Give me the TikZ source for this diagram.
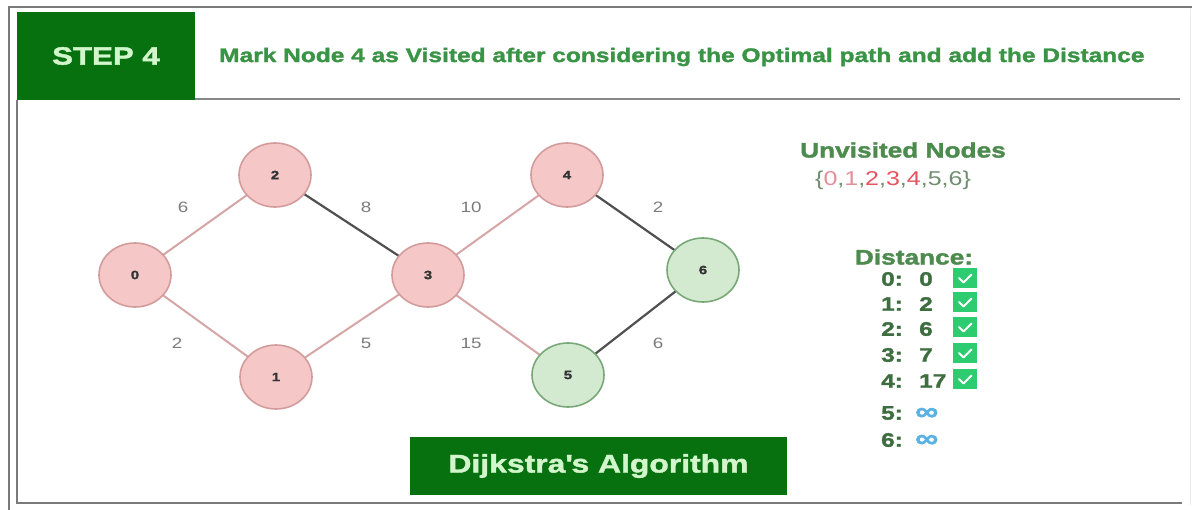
\documentclass[tikz,border=0pt]{standalone}
\usepackage{fontspec}
\setmainfont{Liberation Sans}[FakeStretch=1.25, BoldFeatures={FakeBold=1.6}]
\usetikzlibrary{shapes.geometric}

\definecolor{darkgreen}{HTML}{07700F}
\definecolor{lightgreentext}{HTML}{D2F5CC}
\definecolor{headgreen}{HTML}{3A9446}
\definecolor{titlegreen}{HTML}{4C8A4E}
\definecolor{rowgreen}{HTML}{3E6E40}
\definecolor{framegray}{HTML}{7A7A7A}
\definecolor{pinkfill}{HTML}{F6C7C7}
\definecolor{pinkdraw}{HTML}{D39C9C}
\definecolor{greenfill}{HTML}{D3EAD1}
\definecolor{greendraw}{HTML}{79A878}
\definecolor{pinkedge}{HTML}{D6A6A6}
\definecolor{darkedge}{HTML}{505050}
\definecolor{weightgray}{HTML}{7C7C7C}
\definecolor{visitred}{HTML}{E5535E}
\definecolor{visitpink}{HTML}{E58D98}
\definecolor{setgray}{HTML}{6F8F6F}
\definecolor{checkgreen}{HTML}{2ECC71}
\definecolor{infblue}{HTML}{5AB2E4}

\begin{document}
\begin{tikzpicture}[x=1pt,y=-1pt,
  framestyle/.style={draw=framegray, line width=2.2pt},
  stepbox/.style={fill=darkgreen, text=lightgreentext, font=\bfseries\fontsize{25}{28}\selectfont,
    minimum width=178pt, minimum height=88pt, inner sep=0pt},
  headtext/.style={text=headgreen, font=\bfseries\fontsize{19.6}{22}\selectfont, inner sep=0pt},
  gnode/.style={ellipse, minimum width=72pt, minimum height=64pt, line width=1.6pt,
    font=\bfseries\fontsize{12}{14}\selectfont, text=black!80, inner sep=0pt},
  visited/.style={gnode, fill=pinkfill, draw=pinkdraw},
  unvisited/.style={gnode, fill=greenfill, draw=greendraw},
  lightedge/.style={draw=pinkedge, line width=2pt},
  heavyedge/.style={draw=darkedge, line width=2.2pt},
  weight/.style={text=weightgray, font=\fontsize{15}{17}\selectfont, inner sep=0pt},
  paneltitle/.style={text=titlegreen, font=\bfseries\fontsize{21}{24}\selectfont, inner sep=0pt},
  rowkey/.style={text=rowgreen, font=\bfseries\fontsize{19.5}{22}\selectfont, inner sep=0pt, anchor=west},
  checkbox/.style={fill=checkgreen, minimum width=24pt, minimum height=20pt, inner sep=0pt,
    path picture={\draw[white, line width=1.8pt, line cap=round, line join=round]
      ([xshift=-6pt,yshift=0pt]path picture bounding box.center) -- ++(4.5pt,-4.5pt) -- ++(8pt,8pt);}},
  infsign/.style={text=infblue, font=\bfseries\fontsize{26}{28}\selectfont, inner sep=0pt, anchor=west},
  bannerbox/.style={fill=darkgreen, text=lightgreentext, font=\bfseries\fontsize{25.5}{28}\selectfont,
    minimum width=377pt, minimum height=58pt, inner sep=0pt}
]
\useasboundingbox (0,0) rectangle (1198,510);
\fill[white] (0,0) rectangle (1198,510);

% outer and inner frame lines
\coordinate (otl) at (9,7);
\coordinate (otr) at (1192,7);
\coordinate (obl) at (9,510);
\draw[framestyle] (otr) -- (otl) -- (obl);
\coordinate (itl) at (17,100);
\coordinate (ibl) at (17,503);
\coordinate (ibr) at (1182,503);
\draw[framestyle] (itl) -- (ibl) -- (ibr);
\draw[draw=black!8, line width=1pt] (1190,9) -- (1190,505);

% header
\node[stepbox] (step) at (106,56) {STEP 4};
\coordinate (hl) at (195,99);
\coordinate (hr) at (1180,99);
\draw[draw=framegray!90, line width=2pt] (hl) -- (hr);
\node[headtext, anchor=west] (head) at (219,57)
  {Mark Node 4 as Visited after considering the Optimal path and add the Distance};

% edges between node centres, drawn first so the nodes cover their ends
\coordinate (p0) at (135,275);
\coordinate (p2) at (275,175);
\coordinate (p1) at (276,377);
\coordinate (p3) at (428,275);
\coordinate (p4) at (567,175);
\coordinate (p6) at (703,270);
\coordinate (p5) at (568,375);
\draw[lightedge] (p0) -- (p2);
\draw[lightedge] (p0) -- (p1);
\draw[lightedge] (p1) -- (p3);
\draw[heavyedge] (p2) -- (p3);
\draw[lightedge] (p3) -- (p4);
\draw[lightedge] (p3) -- (p5);
\draw[heavyedge] (p4) -- (p6);
\draw[heavyedge] (p5) -- (p6);

% graph nodes
\node[visited]   (n0) at (p0) {0};
\node[visited]   (n2) at (p2) {2};
\node[visited]   (n1) at (p1) {1};
\node[visited]   (n3) at (p3) {3};
\node[visited]   (n4) at (p4) {4};
\node[unvisited] (n6) at (p6) {6};
\node[unvisited] (n5) at (p5) {5};

% edge weights
\node[weight] (w02) at (183,207) {6};
\node[weight] (w23) at (366,207) {8};
\node[weight] (w34) at (471,207) {10};
\node[weight] (w46) at (658,207) {2};
\node[weight] (w01) at (177,343) {2};
\node[weight] (w13) at (366,343) {5};
\node[weight] (w35) at (471,343) {15};
\node[weight] (w56) at (658,343) {6};

% unvisited set
\node[paneltitle] (unv) at (903,150) {Unvisited Nodes};
\node[inner sep=0pt, font=\fontsize{20}{22}\selectfont, text=setgray] (set) at (893,180)
  {\{\textcolor{visitpink}{0},\textcolor{visitpink}{1},\textcolor{visitred}{2},\textcolor{visitred}{3},\textcolor{visitred}{4},5,6\}};

% distance table
\node[paneltitle] (dist) at (914,257) {Distance:};
\node[rowkey] (k0) at (881,279) {0:};
\node[rowkey] (v0) at (919,279) {0};
\node[checkbox] (c0) at (965,278) {};
\node[rowkey] (k1) at (881,304) {1:};
\node[rowkey] (v1) at (919,304) {2};
\node[checkbox] (c1) at (965,302) {};
\node[rowkey] (k2) at (881,329) {2:};
\node[rowkey] (v2) at (919,329) {6};
\node[checkbox] (c2) at (965,327) {};
\node[rowkey] (k3) at (881,355) {3:};
\node[rowkey] (v3) at (919,355) {7};
\node[checkbox] (c3) at (965,353) {};
\node[rowkey] (k4) at (881,381) {4:};
\node[rowkey] (v4) at (919,381) {17};
\node[checkbox] (c4) at (965,379) {};
\node[rowkey] (k5) at (881,413) {5:};
\node[infsign] (v5) at (915,414) {∞};
\node[rowkey] (k6) at (881,440) {6:};
\node[infsign] (v6) at (915,441) {∞};

% caption banner
\node[bannerbox] (banner) at (598.5,466) {Dijkstra\textquotesingle s Algorithm};
\end{tikzpicture}
\end{document}
